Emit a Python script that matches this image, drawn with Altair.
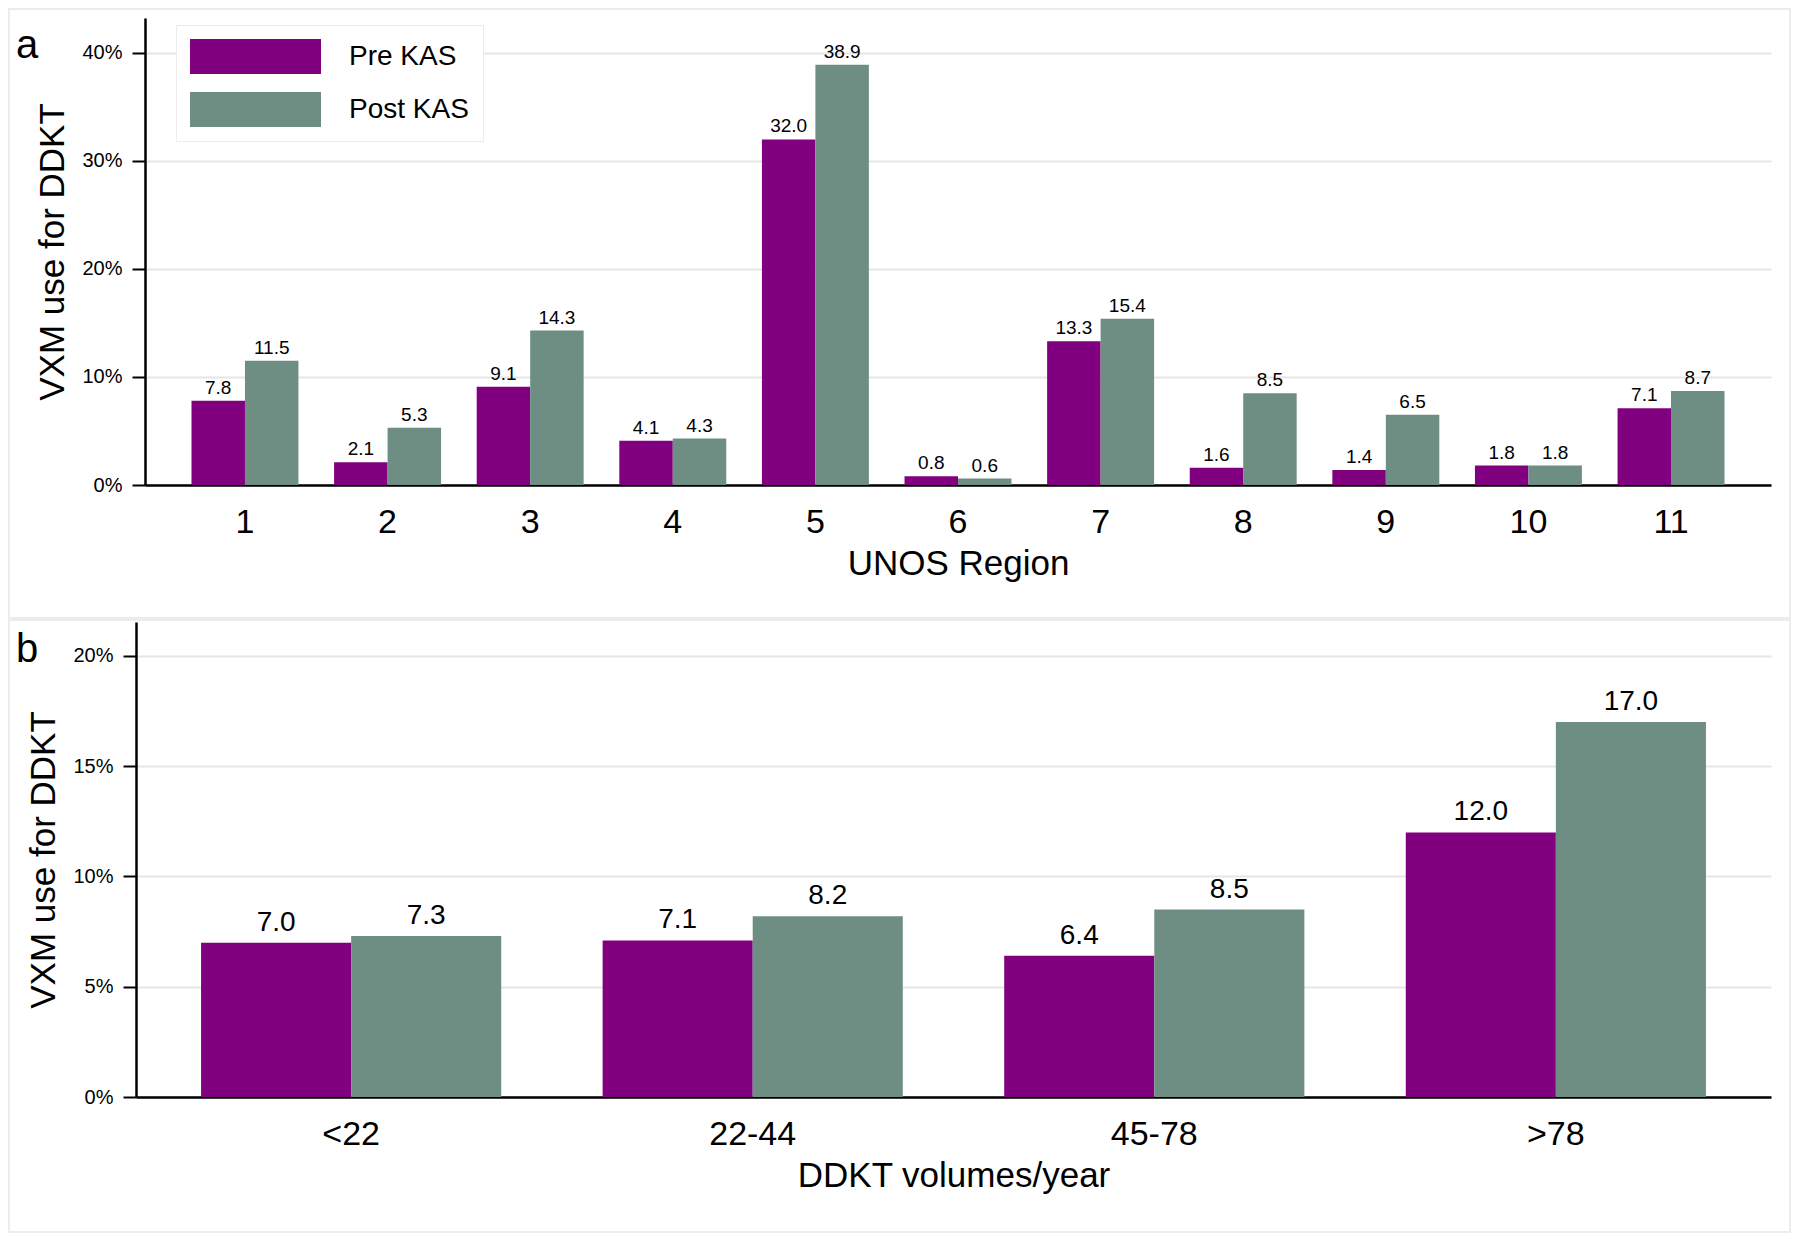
import altair as alt
import pandas as pd

periods = ["Pre KAS", "Post KAS"]
bar_colors = ["#800080", "#6e8e83"]

regions = ["1", "2", "3", "4", "5", "6", "7", "8", "9", "10", "11"]
region_pre = [7.8, 2.1, 9.1, 4.1, 32.0, 0.8, 13.3, 1.6, 1.4, 1.8, 7.1]
region_post = [11.5, 5.3, 14.3, 4.3, 38.9, 0.6, 15.4, 8.5, 6.5, 1.8, 8.7]

volumes = ["<22", "22-44", "45-78", ">78"]
volume_pre = [7.0, 7.1, 6.4, 12.0]
volume_post = [7.3, 8.2, 8.5, 17.0]

FONT = "Liberation Sans"
GRID = "#e6e6e6"
FRAME = "#ececec"


def long_table(cats, pre, post):
    rows = []
    for c, a, b in zip(cats, pre, post):
        rows.append({"cat": c, "period": "Pre KAS", "pct": a})
        rows.append({"cat": c, "period": "Post KAS", "pct": b})
    return pd.DataFrame(rows)


def panel(df, cats, letter, xtitle, width, height, ymax, yticks, xrange, pad_in, pad_out,
          yoffset, label_size, label_dy, xlabel_size, frame_top, frame_bottom, legend):
    base = alt.Chart(df).encode(
        x=alt.X("cat:N", sort=cats, title=xtitle,
                scale=alt.Scale(range=xrange, paddingInner=pad_in, paddingOuter=pad_out),
                axis=alt.Axis(labelAngle=0, ticks=False, tickSize=0, grid=False,
                              labelFontSize=xlabel_size, labelPadding=47, labelBaseline="alphabetic",
                              labelColor="black", domainColor="black", domainWidth=2.5,
                              titleFontSize=35, titleFontWeight="normal", titleColor="black",
                              titleBaseline="alphabetic", titleY=89)),
        xOffset=alt.XOffset("period:N", sort=periods,
                            scale=alt.Scale(domain=periods, paddingInner=0, paddingOuter=0)),
        y=alt.Y("pct:Q", title="VXM use for DDKT",
                scale=alt.Scale(domain=[0, ymax], nice=False),
                axis=alt.Axis(values=yticks, labelExpr="datum.value + '%'", offset=yoffset,
                              labelFontSize=20, labelPadding=10, labelColor="black",
                              tickSize=13, tickWidth=2, tickColor="black",
                              domainColor="black", domainWidth=2.5,
                              gridColor=GRID, gridWidth=2,
                              titleFontSize=35, titleFontWeight="normal", titleColor="black",
                              titleAngle=270, titleBaseline="alphabetic", titleAlign="center",
                              titleX=-82, titleY=height / 2)),
    )

    bars = base.mark_bar().encode(
        color=alt.Color("period:N", sort=periods,
                        scale=alt.Scale(domain=periods, range=bar_colors),
                        legend=legend),
    )
    labels = base.mark_text(baseline="alphabetic", dy=label_dy, fontSize=label_size,
                            color="black").encode(text=alt.Text("pct:Q", format=".1f"))

    tag = pd.DataFrame({"tag": [letter]})
    letter_mark = alt.Chart(tag).mark_text(align="left", baseline="alphabetic", fontSize=40,
                                           color="black").encode(
        text="tag:N", x=alt.value(-120), y=alt.value(40))
    frame = alt.Chart(tag).mark_rect(fill="transparent", stroke=FRAME, strokeWidth=2).encode(
        x=alt.value(-127), x2=alt.value(1654), y=alt.value(frame_top), y2=alt.value(frame_bottom))

    return alt.layer(frame, bars, labels, letter_mark).properties(width=width, height=height)


# wide flat swatch: unit size 35 px tall, path stretched sideways to 131 px
legend_a = alt.Legend(title=None, orient="none", legendX=40, legendY=7,
                      symbolType="M-3.743,-1H3.743V1H-3.743Z", symbolSize=1225,
                      symbolOffset=48, symbolStrokeWidth=0, symbolOpacity=1,
                      labelFontSize=28, labelOffset=76, labelColor="black",
                      padding=14, rowPadding=18, strokeColor=FRAME, fillColor="white")

chart_a = panel(long_table(regions, region_pre, region_post), regions, "a", "UNOS Region",
                1635, 467, 43.24, [0, 10, 20, 30, 40], [9, 1635], 0.25, 0.326, -9,
                19, -7, 34, -9, 600, legend_a)
chart_b = panel(long_table(volumes, volume_pre, volume_post), volumes, "b", "DDKT volumes/year",
                1635, 475, 21.54, [0, 5, 10, 15, 20], [0, 1635], 0.2525, 0.162, 0,
                28, -12, 34, -2, 610, None)

chart = alt.vconcat(chart_a, chart_b, spacing=0).resolve_scale(
    color="independent", x="independent", y="independent", xOffset="independent"
).properties(padding=0).configure(font=FONT).configure_view(strokeWidth=0)

chart.save("out.html", embed_options={"renderer": "svg", "actions": False})
